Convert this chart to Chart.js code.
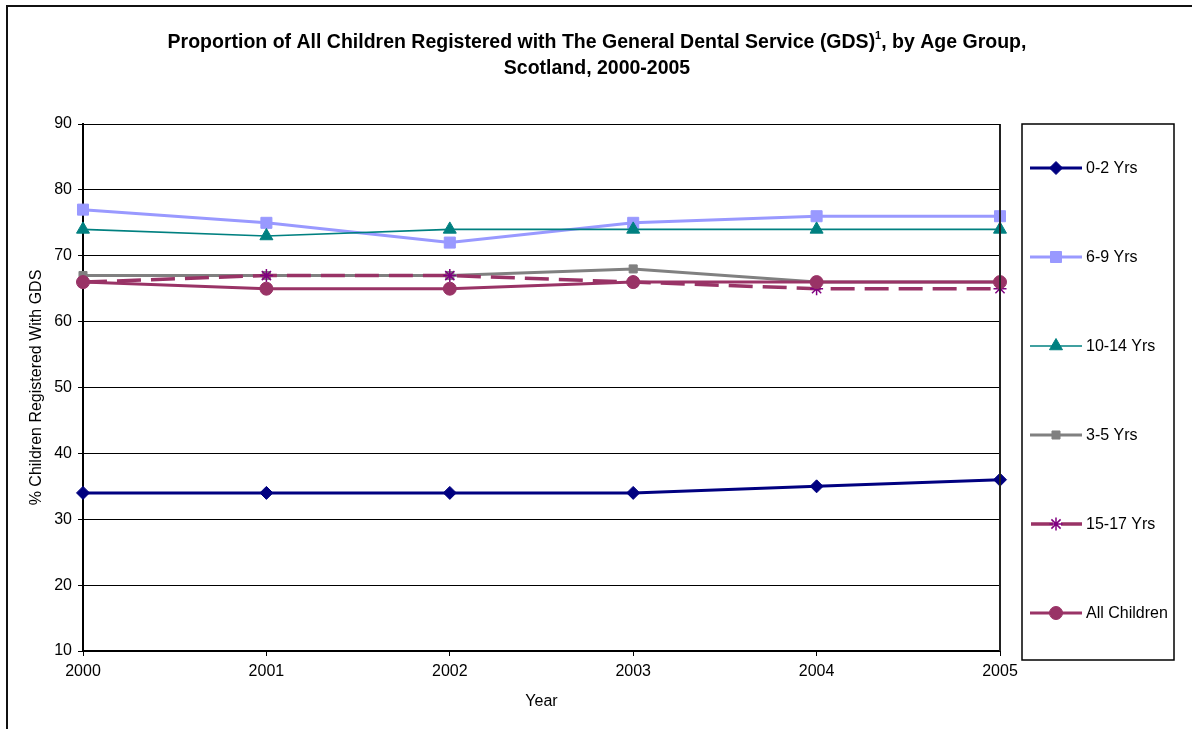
<!DOCTYPE html>
<html>
<head>
<meta charset="utf-8">
<script src="https://cdn.jsdelivr.net/npm/chart.js@4.4.1/dist/chart.umd.min.js"></script>
<style>
  html, body { margin: 0; padding: 0; background: #fff; overflow: hidden; }
  #wrap { position: relative; width: 1192px; height: 729px; overflow: hidden; }
  #frame { position: absolute; left: 6px; top: 5px; width: 1400px; height: 900px;
           border-left: 2px solid #111; border-top: 2px solid #111; box-sizing: border-box; pointer-events: none; }
  canvas { position: absolute; left: 0; top: 0; }
</style>
</head>
<body>
<div id="wrap">
  <canvas id="c" width="1192" height="729"></canvas>
  <div id="frame"></div>
</div>
<script>
// ---- Data ----
const years = ['2000', '2001', '2002', '2003', '2004', '2005'];
const seriesNames = ['0-2 Yrs', '6-9 Yrs', '10-14 Yrs', '3-5 Yrs', '15-17 Yrs', 'All Children'];
const age0to2   = [34, 34, 34, 34, 35, 36];
const age6to9   = [77, 75, 72, 75, 76, 76];
const age10to14 = [74, 73, 74, 74, 74, 74];
const age3to5   = [67, 67, 67, 68, 66, 66];
const age15to17 = [66, 67, 67, 66, 65, 65];
const allChildren = [66, 65, 65, 66, 66, 66];
const yTicks = [10, 20, 30, 40, 50, 60, 70, 80, 90];

const titleLine1a = 'Proportion of All Children Registered with The General Dental Service (GDS)';
const titleSup = '1';
const titleLine1b = ', by Age Group,';
const titleLine2 = 'Scotland, 2000-2005';
const yTitle = '% Children Registered With GDS';
const xTitle = 'Year';

const FONT = '"Liberation Sans", Arial, Helvetica, sans-serif';

function ds(label, data, color, width, style, radius, extra) {
  return Object.assign({
    label, data,
    borderColor: color, backgroundColor: color,
    borderWidth: width,
    pointStyle: style, pointRadius: radius, pointHoverRadius: radius,
    pointBackgroundColor: color, pointBorderColor: color, pointBorderWidth: 1,
    tension: 0, fill: false, clip: false
  }, extra || {});
}

const datasets = [
  ds(seriesNames[0], age0to2, '#000080', 3, 'rectRot', 6.5, { order: 6 }),
  ds(seriesNames[1], age6to9, '#9999FF', 3, 'rect', 7.8, { order: 5 }),
  ds(seriesNames[2], age10to14, '#008080', 1.7, 'triangle', 7.5, { order: 4 }),
  ds(seriesNames[3], age3to5, '#808080', 3, 'rect', 5.7, { order: 3 }),
  ds(seriesNames[4], age15to17, '#993366', 3.5, 'star', 6.5,
     { order: 2, borderDash: [24, 10], pointBorderColor: '#800080', pointBackgroundColor: '#800080', pointBorderWidth: 1.5 }),
  ds(seriesNames[5], allChildren, '#993366', 3, 'circle', 6.5, { order: 1 })
];

function drawMarker(ctx, d, x, y) {
  const opts = { pointStyle: d.pointStyle, radius: d.pointRadius, rotation: 0, borderWidth: d.pointBorderWidth };
  ctx.save();
  ctx.setLineDash([]);
  ctx.fillStyle = d.pointBackgroundColor;
  ctx.strokeStyle = d.pointBorderColor;
  ctx.lineWidth = d.pointBorderWidth;
  if (Chart.helpers && Chart.helpers.drawPoint) {
    Chart.helpers.drawPoint(ctx, opts, x, y);
  } else {
    ctx.beginPath(); ctx.arc(x, y, d.pointRadius, 0, Math.PI * 2); ctx.fill(); ctx.stroke();
  }
  ctx.restore();
}

const decor = {
  id: 'decor',
  afterDraw(chart) {
    const ctx = chart.ctx;
    const area = chart.chartArea;
    ctx.save();
    // right border of plot area
    ctx.strokeStyle = '#222';
    ctx.lineWidth = 2;
    ctx.beginPath();
    ctx.moveTo(area.right, area.top);
    ctx.lineTo(area.right, area.bottom);
    ctx.stroke();
    ctx.lineWidth = 1;
    ctx.strokeStyle = '#000';
    ctx.beginPath();
    ctx.moveTo(area.left, area.top + 0.5);
    ctx.lineTo(area.right, area.top + 0.5);
    ctx.stroke();

    // title
    ctx.fillStyle = '#000';
    ctx.textBaseline = 'alphabetic';
    const mainFont = 'bold 19.5px ' + FONT;
    const supFont = 'bold 11px ' + FONT;
    ctx.font = mainFont;
    const wa = ctx.measureText(titleLine1a).width;
    const wb = ctx.measureText(titleLine1b).width;
    ctx.font = supFont;
    const ws = ctx.measureText(titleSup).width;
    const total = wa + ws + wb;
    const cx = 597;
    let x = cx - total / 2;
    ctx.textAlign = 'left';
    ctx.font = mainFont;
    ctx.fillText(titleLine1a, x, 48);
    ctx.font = supFont;
    ctx.fillText(titleSup, x + wa, 39);
    ctx.font = mainFont;
    ctx.fillText(titleLine1b, x + wa + ws, 48);
    ctx.textAlign = 'center';
    ctx.fillText(titleLine2, cx, 74);

    // legend
    const lx = 1022, ly = 124, lw = 152, lh = 536;
    ctx.strokeStyle = '#000';
    ctx.lineWidth = 1.5;
    ctx.strokeRect(lx, ly, lw, lh);
    ctx.font = '16px ' + FONT;
    ctx.textAlign = 'left';
    ctx.textBaseline = 'middle';
    chart.data.datasets.forEach((d, i) => {
      const y = 168 + i * 89;
      ctx.save();
      ctx.strokeStyle = d.borderColor;
      ctx.lineWidth = d.borderWidth;
      ctx.setLineDash(d.borderDash ? [22, 8] : []);
      if (d.borderDash) ctx.lineDashOffset = -1;
      ctx.beginPath();
      ctx.moveTo(1030, y);
      ctx.lineTo(1082, y);
      ctx.stroke();
      ctx.restore();
      drawMarker(ctx, d, 1056, y);
      ctx.fillStyle = '#000';
      ctx.fillText(d.label, 1086, y + 1);
    });
    ctx.restore();
  }
};

new Chart(document.getElementById('c'), {
  type: 'line',
  data: { labels: years, datasets },
  options: {
    responsive: false,
    animation: false,
    devicePixelRatio: 1,
    layout: { padding: { left: 23, right: 192, top: 124, bottom: 14 } },
    plugins: { legend: { display: false }, title: { display: false }, tooltip: { enabled: false } },
    scales: {
      x: {
        type: 'category',
        offset: false,
        grid: { drawOnChartArea: false, drawTicks: true, tickLength: 5, color: '#000', lineWidth: 1 },
        border: { display: true, color: '#000', width: 2 },
        ticks: { color: '#000', font: { family: FONT, size: 16 }, padding: 6, maxRotation: 0, autoSkip: false },
        title: { display: true, text: xTitle, color: '#000', font: { family: FONT, size: 16 }, padding: 4 },
        afterFit(scale) { scale.height = 64; }
      },
      y: {
        min: 10, max: 90,
        afterBuildTicks(scale) { scale.ticks = yTicks.map(v => ({ value: v })); },
        grid: { drawOnChartArea: true, drawTicks: true, tickLength: 5, color: '#000', lineWidth: 1 },
        border: { display: true, color: '#000', width: 2 },
        ticks: { color: '#000', font: { family: FONT, size: 16 }, padding: 6 },
        title: { display: true, text: yTitle, color: '#000', font: { family: FONT, size: 16 }, padding: 4 },
        afterFit(scale) { scale.width = 60; }
      }
    }
  },
  plugins: [decor]
});
</script>
</body>
</html>
